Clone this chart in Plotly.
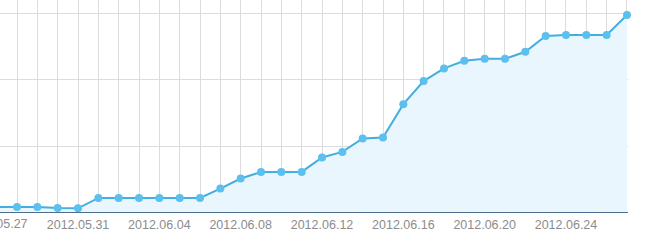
import plotly.graph_objects as go

dates = ["2012.05.27", "2012.05.28", "2012.05.29", "2012.05.30", "2012.05.31",
         "2012.06.01", "2012.06.02", "2012.06.03", "2012.06.04", "2012.06.05",
         "2012.06.06", "2012.06.07", "2012.06.08", "2012.06.09", "2012.06.10",
         "2012.06.11", "2012.06.12", "2012.06.13", "2012.06.14", "2012.06.15",
         "2012.06.16", "2012.06.17", "2012.06.18", "2012.06.19", "2012.06.20",
         "2012.06.21", "2012.06.22", "2012.06.23", "2012.06.24", "2012.06.25",
         "2012.06.26", "2012.06.27"]
values = [9.0, 9.0, 9.0, 7.5, 7.1,
          22.6, 22.6, 22.6, 22.6, 22.6,
          22.6, 36.7, 51.8, 61.7, 61.7,
          61.7, 83.4, 91.8, 112.0, 113.5,
          163.6, 198.2, 217.3, 228.7, 231.7,
          231.7, 242.3, 265.9, 267.4, 267.4,
          267.4, 297.5]
tick_labels = [d if i % 4 == 0 else "" for i, d in enumerate(dates)]

x_range = [0.163, 31.05]
label_color = "#8c8c8c"
label_size = 12.5

fig = go.Figure()
fig.add_trace(go.Scatter(
    x=dates, y=values, mode="lines+markers",
    line=dict(color="#45aee0", width=2),
    marker=dict(color="#5cc0ee", size=8),
    fill="tozeroy", fillcolor="#eaf6fd",
    cliponaxis=False, showlegend=False,
))
fig.update_layout(
    width=647, height=244,
    margin=dict(l=0, r=19, t=0, b=31),
    paper_bgcolor="white", plot_bgcolor="white",
    font=dict(family="Arial, Liberation Sans, sans-serif", size=label_size, color=label_color),
)
fig.update_xaxes(
    type="category", range=x_range,
    tickmode="array", tickvals=dates, ticktext=tick_labels,
    showgrid=True, gridcolor="#dcdcdc", gridwidth=1,
    showline=False, zeroline=False, ticks="", tickangle=0,
    ticklabelstandoff=2,
)
fig.update_yaxes(
    range=[0, 320.1], tickvals=[0, 100, 200, 300],
    showticklabels=False, showgrid=True, gridcolor="#dcdcdc",
    zeroline=False, showline=False,
)
# first label sits just outside the visible range, so it is drawn cut off
first_pos = (0 - x_range[0]) / (x_range[1] - x_range[0])
fig.add_annotation(x=first_pos, y=0, xref="paper", yref="paper", text=tick_labels[0],
                   showarrow=False, yanchor="top", xanchor="center", yshift=-2,
                   font=dict(size=label_size, color=label_color))
fig.add_shape(type="line", xref="paper", yref="y", x0=0, x1=1, y0=0, y1=0,
              line=dict(color="#4d6d8f", width=2))
fig.write_html("out.html")
